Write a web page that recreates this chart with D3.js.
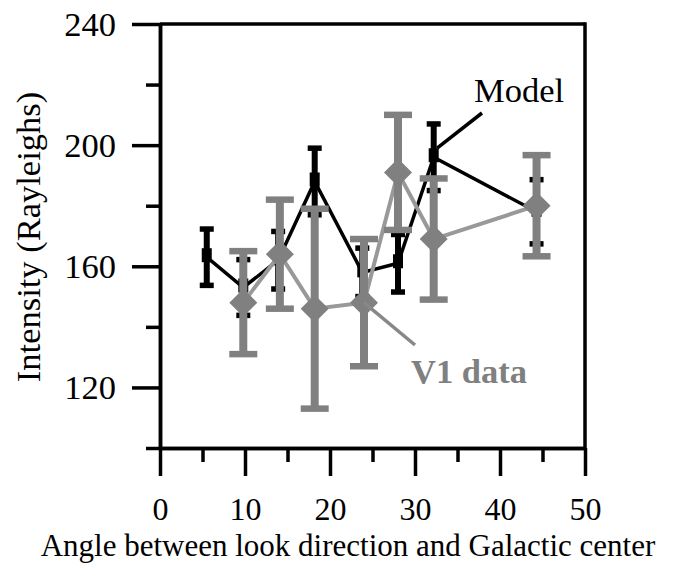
<!DOCTYPE html>
<html><head><meta charset="utf-8">
<script src="https://cdn.jsdelivr.net/npm/d3@7"></script>
<style>body{margin:0;background:#fff}svg{display:block}</style>
</head><body>
<svg id="c" width="681" height="563"></svg>
<script>
// Data
const modelAngle = [5.5, 9.8, 13.9, 18.2, 23.8, 28.0, 32.2, 44.3];
const modelValue = [163, 153, 162, 188, 158, 161, 196, 178];
const modelErr   = [9.3, 9.2, 9.5, 11, 8, 9.5, 11, 10.6];
const v1Angle = [9.8, 14.1, 18.2, 24.0, 28.0, 32.2, 44.3];
const v1Value = [148, 164, 146, 148, 191, 169, 180];
const v1Err   = [17, 18, 33, 21, 19, 20, 16.7];
const xMajorTicks = [0, 10, 20, 30, 40, 50];
const xMinorTicks = [5, 15, 25, 35, 45];
const yMajorTicks = [120, 160, 200, 240];
const yMinorTicks = [100, 140, 180, 220];

const svg = d3.select("#c");
const L = 160, R = 585, T = 24, B = 448;
const x = d3.scaleLinear().domain([0, 50]).range([L, R]);
const y = d3.scaleLinear().domain([100, 240]).range([B, T]);
const font = "'Liberation Serif','Times New Roman',serif";
const AW = 3.5;

// frame: top & right
svg.append("line").attr("x1", L).attr("x2", R).attr("y1", T).attr("y2", T).attr("stroke", "#000").attr("stroke-width", AW);
svg.append("line").attr("x1", R).attr("x2", R).attr("y1", T - AW/2).attr("y2", B).attr("stroke", "#000").attr("stroke-width", AW);

function styleAxis(g) {
  g.selectAll("path.domain").attr("stroke", "#000").attr("stroke-width", AW);
  g.selectAll(".tick line").attr("stroke", "#000").attr("stroke-width", AW);
}
// y axis
const gyMin = svg.append("g").attr("transform", `translate(${L},0)`)
  .call(d3.axisLeft(y).tickValues(yMinorTicks).tickSize(14).tickSizeOuter(0).tickFormat(""));
styleAxis(gyMin);
const gy = svg.append("g").attr("transform", `translate(${L},0)`)
  .call(d3.axisLeft(y).tickValues(yMajorTicks).tickSize(28).tickSizeOuter(0).tickPadding(16));
styleAxis(gy);
gy.selectAll(".tick text").attr("font-family", font).attr("font-size", 34.5).attr("fill", "#000");
// x axis
const gxMin = svg.append("g").attr("transform", `translate(0,${B})`)
  .call(d3.axisBottom(x).tickValues(xMinorTicks).tickSize(14).tickSizeOuter(0).tickFormat(""));
styleAxis(gxMin);
const gx = svg.append("g").attr("transform", `translate(0,${B})`)
  .call(d3.axisBottom(x).tickValues(xMajorTicks).tickSize(28).tickSizeOuter(0).tickPadding(21));
styleAxis(gx);
gx.selectAll(".tick text").attr("font-family", font).attr("font-size", 32).attr("fill", "#000");

// axis titles
svg.append("text").attr("x", 348).attr("y", 556).attr("text-anchor", "middle")
  .attr("font-family", font).attr("font-size", 31).text("Angle between look direction and Galactic center");
svg.append("text").attr("transform", "translate(40,237) rotate(-90)").attr("text-anchor", "middle")
  .attr("font-family", font).attr("font-size", 34.5).text("Intensity (Rayleighs)");

// Model series (black)
const model = modelAngle.map((a, i) => ({a, v: modelValue[i], e: modelErr[i]}));
const v1 = v1Angle.map((a, i) => ({a, v: v1Value[i], e: v1Err[i]}));
const line = d3.line().x(d => x(d.a)).y(d => y(d.v));

svg.append("path").datum(model).attr("d", line).attr("fill", "none").attr("stroke", "#000").attr("stroke-width", 3.5);
const gm = svg.append("g");
model.forEach(d => {
  gm.append("line").attr("x1", x(d.a)).attr("x2", x(d.a)).attr("y1", y(d.v + d.e)).attr("y2", y(d.v - d.e)).attr("stroke", "#000").attr("stroke-width", 6);
  [d.v + d.e, d.v - d.e].forEach(c => gm.append("line").attr("x1", x(d.a) - 7).attr("x2", x(d.a) + 7).attr("y1", y(c)).attr("y2", y(c)).attr("stroke", "#000").attr("stroke-width", 5.5));
  gm.append("rect").attr("x", x(d.a) - 5).attr("y", y(d.v) - 9).attr("width", 10).attr("height", 14).attr("fill", "#000");
});
// Model leader + label
svg.append("line").attr("x1", x(32.6)).attr("y1", y(199)).attr("x2", 482).attr("y2", 113).attr("stroke", "#000").attr("stroke-width", 3.5);
svg.append("text").attr("x", 474).attr("y", 102).attr("font-family", font).attr("font-size", 34.5).text("Model");

// V1 series (gray)
svg.append("path").datum(v1).attr("d", line).attr("fill", "none").attr("stroke", "#999999").attr("stroke-width", 4);
const gv = svg.append("g");
v1.forEach(d => {
  gv.append("line").attr("x1", x(d.a)).attr("x2", x(d.a)).attr("y1", y(d.v + d.e)).attr("y2", y(d.v - d.e)).attr("stroke", "#808080").attr("stroke-width", 8);
  [d.v + d.e, d.v - d.e].forEach(c => gv.append("line").attr("x1", x(d.a) - 14).attr("x2", x(d.a) + 14).attr("y1", y(c)).attr("y2", y(c)).attr("stroke", "#808080").attr("stroke-width", 6.5));
  gv.append("path").attr("d", `M${x(d.a)},${y(d.v) - 14}L${x(d.a) + 14},${y(d.v)}L${x(d.a)},${y(d.v) + 14}L${x(d.a) - 14},${y(d.v)}Z`).attr("fill", "#808080");
});
// V1 leader + label
svg.append("line").attr("x1", x(24)).attr("y1", y(148)).attr("x2", 415).attr("y2", 345).attr("stroke", "#888").attr("stroke-width", 3.5);
svg.append("text").attr("x", 411).attr("y", 383).attr("font-family", font).attr("font-size", 34.5).attr("font-weight", "bold").attr("fill", "#808080").text("V1 data");
</script>
</body></html>
